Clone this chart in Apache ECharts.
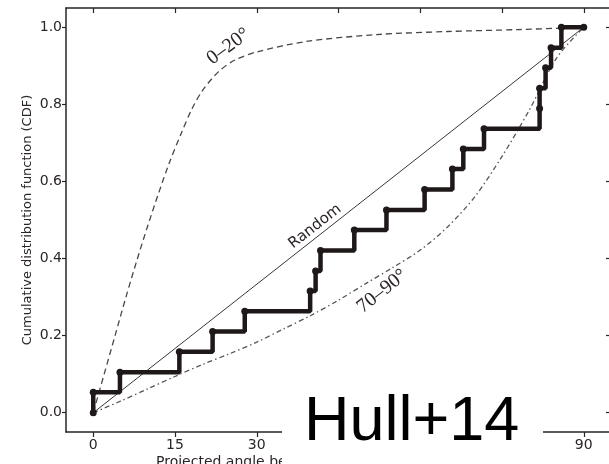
<!DOCTYPE html>
<html>
<head>
<meta charset="utf-8">
<script src="https://cdn.jsdelivr.net/npm/echarts@6/dist/echarts.min.js"></script>
<style>
  html, body { margin: 0; padding: 0; background: #fff; }
  #main { width: 609px; height: 464px; }
</style>
</head>
<body>
<div id="main"></div>
<script>
// observed projected angles (deg) and the step CDF
const stepAngles = [0, 0, 4.9, 15.8, 21.9, 27.8, 39.8, 40.8, 41.7, 47.9, 53.8, 60.8, 65.9, 67.9, 71.7, 81.9, 81.9, 83.0, 84.0, 85.9, 90];
const stepCdf = [0, 0.053, 0.105, 0.158, 0.211, 0.263, 0.316, 0.368, 0.421, 0.474, 0.526, 0.579, 0.632, 0.684, 0.737, 0.789, 0.842, 0.895, 0.947, 1.0, 1.0];

// random orientation
const randomAngles = [0, 90];
const randomCdf = [0, 1];

// 0-20 deg model curve (dashed)
const lowAngles = [0, 2, 4, 6, 8, 10, 12, 14, 16, 18, 20, 23, 26, 30, 39, 52, 65, 78, 90];
const lowCdf = [0, 0.1, 0.2, 0.3, 0.395, 0.485, 0.57, 0.65, 0.72, 0.785, 0.835, 0.885, 0.915, 0.936, 0.963, 0.981, 0.989, 0.994, 1.0];

// 70-90 deg model curve (dash-dot)
const highAngles = [0, 5, 10, 15, 20, 25, 30, 35, 40, 45, 50, 55, 60, 65, 70, 75, 80, 85, 90];
const highCdf = [0, 0.03, 0.062, 0.094, 0.125, 0.153, 0.183, 0.218, 0.253, 0.292, 0.335, 0.377, 0.422, 0.482, 0.56, 0.665, 0.785, 0.92, 1.0];

const xTicks = [0, 15, 30, 45, 60, 75, 90];
const yTicks = [0, 0.2, 0.4, 0.6, 0.8, 1.0];

const zip = (xs, ys) => xs.map((x, i) => [x, ys[i]]);

const ink = '#2b2525';
const tickFont = { color: ink, fontSize: 14, fontFamily: 'DejaVu Sans' };

const chart = echarts.init(document.getElementById('main'));

const option = {
  animation: false,
  backgroundColor: '#fff',
  grid: { left: 66, top: 8, width: 545, height: 424, outerBoundsMode: 'none' },
  xAxis: [{
    type: 'value', min: -5, max: 95, position: 'bottom',
    splitLine: { show: false },
    axisLine: { onZero: false, lineStyle: { color: ink, width: 1.5 } },
    axisTick: { inside: false, length: 5, customValues: xTicks, lineStyle: { color: ink, width: 1.2 } },
    axisLabel: { customValues: xTicks, margin: 6, ...tickFont }
  }, {
    type: 'value', min: -5, max: 95, position: 'top',
    splitLine: { show: false },
    axisLine: { onZero: false, lineStyle: { color: ink, width: 1.5 } },
    axisTick: { inside: true, length: 5, customValues: xTicks, lineStyle: { color: ink, width: 1.2 } },
    axisLabel: { show: false }
  }],
  yAxis: [{
    type: 'value', min: -0.05, max: 1.05, position: 'left',
    name: 'Cumulative distribution function (CDF)',
    nameLocation: 'middle', nameGap: 32, nameMoveOverlap: false,
    nameTextStyle: { color: ink, fontSize: 13, fontFamily: 'DejaVu Sans' },
    splitLine: { show: false },
    axisLine: { show: true, onZero: false, lineStyle: { color: ink, width: 1.5 } },
    axisTick: { show: true, inside: false, length: 4, customValues: yTicks, lineStyle: { color: ink, width: 1.2 } },
    axisLabel: { customValues: yTicks, margin: 4, formatter: v => v.toFixed(1), ...tickFont }
  }, {
    type: 'value', min: -0.05, max: 1.05, position: 'right',
    splitLine: { show: false },
    axisLine: { show: true, onZero: false, lineStyle: { color: ink, width: 1.5 } },
    axisTick: { show: true, inside: true, length: 5, customValues: yTicks, lineStyle: { color: ink, width: 1.2 } },
    axisLabel: { show: false }
  }],
  series: [
    {
      name: 'Random', type: 'line', symbol: 'none',
      lineStyle: { color: '#3a3535', width: 1 },
      data: zip(randomAngles, randomCdf)
    },
    {
      name: '0-20', type: 'line', symbol: 'none', smooth: 0.3,
      lineStyle: { color: '#4a4545', width: 1.3, type: [6, 4] },
      data: zip(lowAngles, lowCdf)
    },
    {
      name: '70-90', type: 'line', symbol: 'none', smooth: 0.3,
      lineStyle: { color: '#5a5555', width: 1.3, type: [5, 3, 1.5, 3] },
      data: zip(highAngles, highCdf)
    },
    {
      name: 'Observed', type: 'line', step: 'end',
      symbol: 'circle', symbolSize: 7, showSymbol: true,
      itemStyle: { color: '#1e1818' },
      lineStyle: { color: '#1e1818', width: 4.5 },
      data: zip(stepAngles, stepCdf),
      z: 5
    }
  ]
};

chart.setOption(option);

// curve labels placed in data space, rotated along the curves
const toPx = (x, y) => chart.convertToPixel({ gridIndex: 0 }, [x, y]);
const deg = a => a * Math.PI / 180;
const pLow = toPx(24.8, 0.95);
const pRand = toPx(40.7, 0.483);
const pHigh = toPx(53.0, 0.315);

chart.setOption({
  graphic: [
    {
      type: 'text', x: pLow[0], y: pLow[1], rotation: deg(36.5), z: 20,
      style: { text: '0–20°', fill: '#2b2525', font: '20px "Liberation Serif"', textAlign: 'center', textVerticalAlign: 'middle' }
    },
    {
      type: 'text', x: pRand[0], y: pRand[1], rotation: deg(38.2), z: 20,
      style: { text: 'Random', fill: '#2b2525', font: '15px "DejaVu Sans"', textAlign: 'center', textVerticalAlign: 'middle' }
    },
    {
      type: 'text', x: pHigh[0], y: pHigh[1], rotation: deg(38.7), z: 20,
      style: { text: '70–90°', fill: '#2b2525', font: '20px "Liberation Serif"', textAlign: 'center', textVerticalAlign: 'middle' }
    },
    {
      type: 'text', x: 156, y: 455, z: 20,
      style: { text: 'Projected angle between B-field and outflow (°)', fill: ink, font: '14px "DejaVu Sans"', textAlign: 'left', textVerticalAlign: 'top' }
    },
    {
      type: 'rect', shape: { x: 282, y: 385, width: 261, height: 79 }, z: 50,
      style: { fill: '#fff' }
    },
    {
      type: 'text', x: 304, y: 391, z: 51,
      style: { text: 'Hull+14', fill: '#000', font: '63px "Liberation Sans"', textAlign: 'left', textVerticalAlign: 'top' }
    }
  ]
});
</script>
</body>
</html>
